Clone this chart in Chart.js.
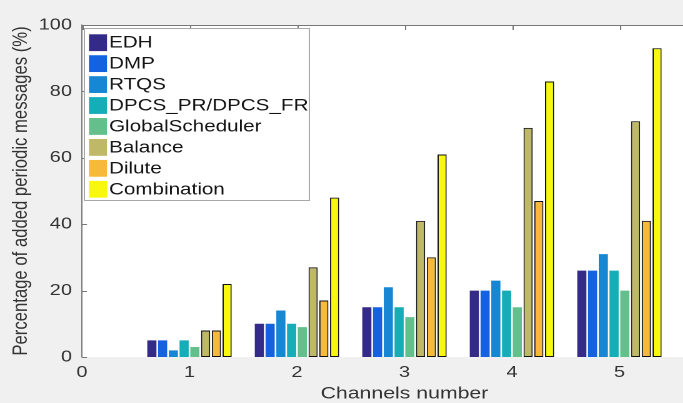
<!DOCTYPE html>
<html>
<head>
<meta charset="utf-8">
<script src="https://cdn.jsdelivr.net/npm/chart.js@4"></script>
<style>
html, body { margin: 0; padding: 0; background: #f0f0f0; }
#frame { width: 683px; height: 403px; overflow: hidden; position: relative; }
#stretch { width: 592px; height: 403px; transform: scaleX(1.25); transform-origin: 0 0; }
</style>
</head>
<body>
<div id="frame"><div id="stretch"><canvas id="chart" width="592" height="403"></canvas></div></div>
<script>
// channels on the x axis
const channels = [1, 2, 3, 4, 5];
const xTicks = [0, 1, 2, 3, 4, 5, 6];
const yTicks = [0, 20, 40, 60, 80, 100];

const seriesNames = ['EDH', 'DMP', 'RTQS', 'DPCS_PR/DPCS_FR', 'GlobalScheduler', 'Balance', 'Dilute', 'Combination'];
const edh = [5, 10, 15, 20, 26];
const dmp = [5, 10, 15, 20, 26];
const rtqs = [2, 14, 21, 23, 31];
const dpcs = [5, 10, 15, 20, 26];
const globalScheduler = [3, 9, 12, 15, 20];
const balance = [8, 27, 41, 69, 71];
const dilute = [8, 17, 30, 47, 41];
const combination = [22, 48, 61, 83, 93];

const seriesValues = [edh, dmp, rtqs, dpcs, globalScheduler, balance, dilute, combination];
const colors = ['#342b89', '#1462e0', '#1887d3', '#14adb8', '#63c08c', '#beb867', '#f7b93a', '#f8f80e'];
const outlined = [false, false, false, false, false, true, true, true];

const FONT = '"Liberation Sans", Arial, Helvetica, sans-serif';
const TEXT = '#333333';

const datasets = seriesNames.map((name, i) => ({
    label: name,
    data: channels.map((c, j) => ({ x: c, y: seriesValues[i][j] })),
    backgroundColor: colors[i],
    borderColor: '#111111',
    borderWidth: outlined[i] ? 1 : 0,
    borderSkipped: false,
    categoryPercentage: 0.8,
    barPercentage: 0.85
}));

// white axes box, inward ticks, top border
const axesBox = {
    id: 'axesBox',
    beforeDraw(chart) {
        const { ctx, chartArea: a } = chart;
        ctx.save();
        ctx.fillStyle = '#ffffff';
        ctx.fillRect(a.left, a.top, a.right - a.left, a.bottom - a.top);
        ctx.restore();
    },
    afterDraw(chart) {
        const { ctx, chartArea: a, scales } = chart;
        ctx.save();
        ctx.strokeStyle = '#777777';
        ctx.lineWidth = 1;
        ctx.beginPath();
        ctx.moveTo(a.left, a.top + 0.5);
        ctx.lineTo(a.right, a.top + 0.5);
        yTicks.forEach(v => {
            const y = Math.round(scales.y.getPixelForValue(v)) + 0.5;
            ctx.moveTo(a.left, y);
            ctx.lineTo(a.left + 4, y);
        });
        xTicks.forEach(v => {
            const x = Math.round(scales.x.getPixelForValue(v)) + 0.5;
            ctx.moveTo(x, a.top);
            ctx.lineTo(x, a.top + 5);
        });
        ctx.stroke();
        ctx.restore();
    }
};

// legend box in the upper left corner of the axes
const legendBox = {
    id: 'legendBox',
    afterDraw(chart) {
        const ctx = chart.ctx;
        const x0 = 67, y0 = 28, w = 180, h = 172;
        ctx.save();
        ctx.fillStyle = '#ffffff';
        ctx.fillRect(x0, y0, w, h);
        ctx.strokeStyle = '#a8a8a8';
        ctx.lineWidth = 1;
        ctx.strokeRect(x0 + 0.5, y0 + 0.5, w, h);
        ctx.font = '16.5px ' + FONT;
        ctx.textBaseline = 'middle';
        chart.data.datasets.forEach((ds, i) => {
            const cy = 42.7 + i * 20.94;
            ctx.fillStyle = ds.backgroundColor;
            ctx.fillRect(71.2, cy - 8.4, 14.4, 16.8);
            ctx.fillStyle = '#141414';
            ctx.fillText(ds.label, 87.2, cy + 0.5);
        });
        ctx.restore();
    }
};

new Chart(document.getElementById('chart'), {
    type: 'bar',
    data: { datasets },
    plugins: [axesBox, legendBox],
    options: {
        responsive: false,
        animation: false,
        devicePixelRatio: 2,
        layout: { padding: { left: 0, top: 25, right: 0, bottom: 0 } },
        plugins: { legend: { display: false }, tooltip: { enabled: false } },
        scales: {
            x: {
                type: 'linear',
                min: 0,
                max: 6,
                offset: false,
                grid: { display: false, drawTicks: false, offset: false },
                border: { display: false },
                afterBuildTicks: s => { s.ticks = xTicks.map(v => ({ value: v })); },
                afterFit: s => { s.height = 46; },
                ticks: { color: TEXT, font: { family: FONT, size: 16 }, padding: 6, maxRotation: 0 },
                title: { display: true, text: 'Channels number', color: TEXT, font: { family: FONT, size: 17, lineHeight: 1.1 }, padding: { top: 0, bottom: 0 } }
            },
            y: {
                min: 0,
                max: 100,
                grid: { display: false, drawTicks: false },
                border: { display: true, color: '#777777', width: 1 },
                afterBuildTicks: s => { s.ticks = yTicks.map(v => ({ value: v })); },
                afterFit: s => { s.width = 65.6; },
                ticks: { color: TEXT, font: { family: FONT, size: 16 }, padding: 8 },
                title: { display: true, text: 'Percentage of added periodic messages (%)', color: TEXT, font: { family: FONT, size: 16.7 }, padding: { top: 7, bottom: 4 } }
            }
        }
    }
});
</script>
</body>
</html>
